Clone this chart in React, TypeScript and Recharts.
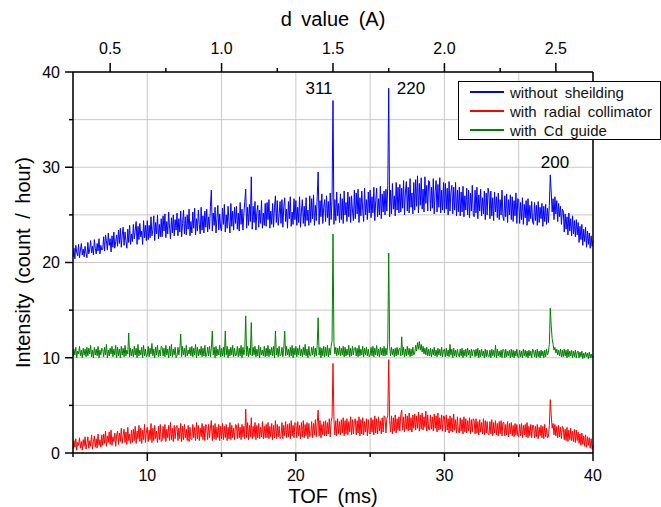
import React from 'react';
import { LineChart, Line, XAxis, YAxis, CartesianGrid, ReferenceDot } from 'recharts';

// TOF bins (ms): one value every 1/16 ms from 5 to 40
const TOF_START = 5;
const TOF_STEP = 0.0625;

// Intensity (count / hour), one row per ms
const BLUE = [
  20.6, 21.5, 20.4, 21.8, 21.1, 20.7, 21.9, 20.5, 21.3, 22.0, 20.8, 21.4, 20.6, 21.7, 21.0, 20.5,
  22.1, 20.9, 21.4, 22.3, 21.0, 21.7, 20.8, 22.4, 21.5, 20.9, 22.0, 21.2, 22.5, 20.9, 21.8, 21.3,
  21.4, 22.7, 21.2, 22.9, 22.3, 21.3, 23.1, 21.8, 22.5, 21.1, 22.8, 21.6, 23.2, 21.5, 22.2, 22.9,
  21.7, 23.4, 22.0, 23.6, 21.6, 22.9, 23.7, 21.8, 23.2, 22.3, 21.5, 23.5, 22.1, 23.9, 21.9, 23.0,
  22.2, 24.0, 22.5, 23.4, 24.3, 21.9, 23.8, 22.4, 24.1, 22.7, 23.3, 21.9, 24.4, 22.6, 23.9, 22.3,
  24.4, 22.4, 23.9, 22.6, 24.8, 22.8, 23.4, 24.9, 22.3, 24.2, 23.0, 25.0, 22.5, 24.0, 22.7, 24.6,
  22.7, 24.9, 23.3, 25.1, 22.6, 24.3, 23.0, 25.3, 23.6, 22.5, 24.7, 23.1, 25.0, 22.8, 24.5, 23.4,
  25.2, 22.8, 24.6, 23.2, 25.4, 22.7, 24.1, 25.5, 23.0, 24.8, 22.9, 25.0, 23.5, 25.6, 22.8, 24.3,
  23.1, 25.3, 23.6, 25.7, 22.9, 24.6, 23.3, 25.5, 24.0, 23.0, 25.8, 23.4, 24.9, 23.1, 25.4, 23.7,
  25.6, 23.2, 24.8, 23.5, 25.9, 27.6, 23.3, 25.2, 23.9, 25.8, 23.1, 24.6, 26.0, 23.4, 25.1, 23.6,
  23.3, 25.7, 24.0, 26.1, 23.2, 25.0, 23.6, 25.9, 24.3, 23.1, 26.2, 23.8, 25.4, 23.4, 25.8, 24.1,
  25.9, 23.5, 25.2, 23.3, 26.3, 24.0, 25.6, 23.4, 25.1, 26.4, 27.7, 23.6, 25.8, 23.9, 26.1, 24.3,
  29.0, 23.5, 25.9, 24.2, 26.4, 23.4, 25.3, 26.0, 23.7, 25.5, 24.1, 26.5, 23.6, 25.2, 23.9, 26.2,
  23.8, 26.3, 24.5, 26.6, 23.6, 25.4, 24.0, 26.2, 23.7, 25.8, 27.0, 24.2, 26.5, 23.9, 25.1, 26.4,
  24.1, 26.6, 23.7, 25.9, 26.8, 24.3, 25.6, 23.6, 26.4, 24.6, 26.9, 23.8, 25.3, 24.0, 26.7, 24.5,
  26.5, 23.9, 25.8, 24.2, 26.9, 23.7, 25.4, 26.6, 24.1, 25.9, 23.8, 26.8, 24.4, 25.5, 23.9, 27.0,
  24.2, 26.7, 24.6, 27.1, 23.9, 26.0, 24.4, 26.9, 29.5, 24.0, 26.5, 24.8, 27.2, 24.1, 25.8, 26.6,
  24.3, 27.0, 24.7, 26.4, 23.9, 27.3, 24.5, 26.8, 37.0, 24.0, 26.6, 24.4, 27.4, 24.9, 26.2, 24.2,
  27.2, 24.5, 26.7, 24.1, 27.5, 25.0, 26.3, 24.3, 27.4, 24.8, 26.9, 24.2, 27.0, 25.4, 24.4, 27.6,
  24.6, 27.3, 25.1, 27.7, 24.2, 26.8, 24.9, 27.5, 25.5, 24.3, 27.8, 25.0, 26.6, 24.5, 27.4, 25.2,
  27.6, 24.7, 26.9, 25.2, 27.9, 24.4, 26.5, 27.8, 24.8, 26.7, 25.0, 28.0, 24.6, 27.2, 25.3, 27.5,
  25.0, 27.7, 25.4, 28.1, 38.3, 24.8, 27.6, 25.1, 28.3, 25.6, 27.0, 24.9, 28.4, 25.5, 27.9, 25.2,
  28.2, 25.3, 27.8, 25.7, 28.6, 25.0, 27.4, 28.5, 25.4, 27.9, 25.2, 28.8, 25.8, 27.3, 25.1, 28.4,
  25.5, 28.7, 25.9, 29.1, 25.2, 28.3, 26.0, 28.9, 25.6, 27.7, 25.3, 29.0, 26.2, 28.1, 25.4, 28.6,
  28.5, 25.4, 27.9, 25.7, 28.8, 25.1, 27.5, 28.6, 25.3, 28.2, 25.8, 28.9, 25.2, 27.6, 25.5, 28.4,
  25.2, 28.3, 25.6, 27.8, 25.0, 28.5, 25.4, 27.4, 28.1, 25.1, 27.9, 25.5, 28.4, 24.9, 27.6, 25.3,
  27.9, 24.9, 27.4, 25.3, 28.0, 24.8, 27.0, 25.5, 27.8, 25.0, 27.6, 24.7, 27.3, 25.4, 28.1, 25.1,
  24.8, 27.6, 25.2, 27.9, 24.6, 27.1, 25.4, 27.7, 24.9, 26.8, 25.1, 27.5, 24.5, 27.3, 25.0, 27.8,
  27.2, 24.6, 27.5, 24.9, 26.8, 24.4, 27.4, 25.3, 26.9, 24.7, 27.3, 24.5, 26.6, 25.0, 27.6, 24.8,
  24.4, 27.0, 24.8, 27.2, 24.2, 26.6, 25.0, 27.1, 24.5, 26.9, 24.3, 26.5, 24.9, 27.3, 24.1, 26.7,
  26.6, 24.1, 26.3, 24.5, 26.8, 24.0, 26.1, 24.7, 26.5, 23.9, 26.7, 24.3, 26.0, 24.6, 26.4, 24.2,
  24.0, 26.3, 24.4, 26.0, 23.9, 26.4, 24.2, 25.8, 24.6, 26.2, 23.8, 25.9, 24.3, 26.1, 24.0, 25.7,
  24.2, 26.0, 29.2, 27.4, 25.3, 26.7, 24.5, 26.9, 25.1, 26.5, 24.3, 26.2, 24.8, 25.9, 24.0, 25.6,
  25.4, 23.2, 25.1, 23.5, 24.8, 22.9, 25.2, 23.3, 24.6, 22.8, 24.9, 23.0, 24.4, 22.7, 24.5, 22.9,
  24.2, 22.1, 23.8, 22.4, 24.0, 21.8, 23.5, 22.2, 23.7, 21.6, 23.3, 21.9, 23.1, 21.5, 22.8, 21.7,
  22.3,
];

const RED = [
  0.4, 1.3, 0.6, 1.5, 0.3, 1.1, 0.8, 1.6, 0.5, 1.2, 0.3, 1.4, 0.7, 1.7, 0.4, 1.0,
  1.7, 0.5, 1.3, 0.7, 1.9, 0.4, 1.2, 1.8, 0.6, 1.5, 0.5, 2.0, 0.8, 1.4, 0.6, 1.9,
  0.8, 2.0, 1.0, 2.3, 0.7, 1.8, 1.1, 2.2, 0.9, 2.4, 0.8, 1.7, 1.2, 2.1, 0.7, 1.9,
  2.3, 0.9, 2.1, 1.2, 2.6, 1.0, 1.9, 2.5, 1.1, 2.2, 0.9, 2.7, 1.3, 2.0, 1.0, 2.4,
  1.1, 2.5, 1.3, 2.8, 1.0, 2.3, 1.5, 2.9, 1.2, 2.6, 1.0, 2.4, 1.4, 3.0, 1.1, 2.2,
  2.7, 1.2, 2.4, 1.4, 3.1, 1.1, 2.6, 1.3, 2.9, 1.5, 2.3, 1.1, 2.8, 1.4, 3.0, 1.2,
  1.3, 2.8, 1.5, 3.0, 1.2, 2.5, 1.6, 2.9, 1.3, 3.2, 1.4, 2.6, 1.2, 2.9, 1.5, 2.7,
  2.9, 1.3, 2.6, 1.5, 3.1, 1.2, 2.8, 1.4, 3.0, 1.6, 2.5, 1.3, 2.9, 1.2, 2.7, 1.5,
  1.4, 3.0, 1.6, 2.7, 1.3, 3.2, 1.5, 2.9, 1.3, 2.6, 1.7, 3.1, 1.4, 2.8, 1.3, 3.0,
  2.8, 1.4, 3.0, 1.6, 2.6, 3.4, 1.3, 2.9, 1.5, 3.1, 1.4, 2.7, 1.6, 3.0, 1.3, 2.8,
  1.5, 3.1, 1.4, 2.8, 1.6, 3.0, 1.3, 2.7, 1.5, 3.2, 1.4, 2.9, 1.6, 2.6, 1.4, 3.0,
  2.9, 1.5, 3.1, 1.6, 2.7, 1.4, 3.0, 1.7, 2.8, 1.5, 4.6, 1.6, 3.2, 1.4, 2.9, 1.7,
  3.7, 1.5, 2.8, 1.7, 3.2, 1.4, 2.9, 1.6, 3.1, 1.5, 2.7, 1.7, 3.3, 1.5, 2.8, 1.6,
  3.0, 1.6, 3.2, 1.5, 2.8, 1.7, 3.1, 1.4, 2.9, 1.6, 3.4, 1.5, 3.0, 1.7, 2.8, 1.5,
  1.7, 3.2, 1.5, 2.9, 1.8, 3.3, 1.6, 3.0, 1.7, 3.1, 1.5, 3.4, 1.8, 2.9, 1.6, 3.2,
  3.1, 1.6, 3.3, 1.8, 2.9, 1.5, 3.2, 1.7, 3.4, 1.6, 3.0, 1.8, 3.2, 1.5, 3.1, 1.7,
  1.8, 3.3, 1.6, 3.1, 1.9, 3.5, 1.7, 3.2, 4.5, 1.8, 3.4, 1.6, 3.0, 1.9, 3.3, 1.8,
  3.4, 1.8, 3.2, 2.0, 3.6, 1.7, 3.3, 3.8, 9.4, 3.5, 1.9, 3.4, 1.8, 3.6, 2.0, 3.3,
  1.9, 3.5, 2.1, 3.7, 1.8, 3.4, 2.0, 3.6, 1.9, 3.3, 2.2, 3.8, 1.9, 3.5, 2.0, 3.4,
  3.6, 1.9, 3.4, 2.1, 3.8, 1.8, 3.5, 2.0, 3.7, 1.9, 3.3, 2.2, 3.6, 1.8, 3.5, 2.1,
  2.0, 3.7, 2.2, 3.5, 1.9, 3.9, 2.1, 3.6, 2.0, 3.8, 2.3, 3.4, 2.0, 3.7, 2.2, 3.9,
  3.8, 2.1, 3.6, 3.9, 9.8, 3.4, 2.2, 3.9, 2.0, 3.7, 2.3, 4.0, 2.1, 3.6, 2.4, 3.8,
  2.3, 4.0, 4.5, 2.4, 3.8, 2.2, 4.1, 2.5, 3.9, 2.3, 4.2, 2.4, 3.7, 2.2, 4.0, 2.6,
  4.1, 2.4, 3.9, 2.6, 4.3, 2.3, 4.0, 2.5, 4.2, 2.4, 3.8, 2.7, 4.4, 2.3, 4.0, 2.5,
  2.4, 4.0, 2.5, 3.8, 2.3, 4.1, 2.6, 3.9, 2.2, 4.2, 2.4, 3.7, 2.5, 4.0, 2.3, 3.9,
  3.8, 2.2, 4.0, 2.4, 3.6, 2.1, 3.9, 2.3, 3.7, 2.2, 4.1, 2.4, 3.5, 2.1, 3.8, 2.3,
  2.1, 3.7, 2.3, 3.5, 2.0, 3.8, 2.2, 3.6, 2.1, 3.4, 2.3, 3.7, 2.0, 3.5, 2.2, 3.6,
  3.4, 2.0, 3.6, 2.1, 3.3, 1.9, 3.5, 2.2, 3.2, 2.0, 3.6, 1.9, 3.4, 2.1, 3.3, 2.0,
  1.9, 3.3, 2.0, 3.5, 1.8, 3.2, 2.1, 3.4, 1.9, 3.1, 1.8, 3.3, 2.0, 3.4, 1.8, 3.2,
  3.2, 1.8, 3.0, 1.9, 3.3, 1.7, 3.1, 2.0, 3.2, 1.8, 2.9, 1.7, 3.1, 1.9, 3.0, 1.8,
  1.7, 3.0, 1.8, 3.1, 1.6, 2.9, 1.9, 3.0, 1.7, 3.2, 1.6, 2.8, 1.8, 3.0, 1.6, 2.9,
  2.9, 1.6, 2.8, 1.7, 3.0, 1.5, 2.7, 1.8, 2.9, 1.6, 2.8, 1.5, 3.0, 1.7, 2.6, 1.6,
  1.7, 2.9, 5.6, 4.0, 2.6, 3.1, 1.9, 3.0, 1.8, 2.8, 1.6, 2.9, 1.7, 2.7, 1.5, 2.8,
  2.6, 1.4, 2.5, 1.3, 2.7, 1.2, 2.4, 1.4, 2.6, 1.3, 2.3, 1.2, 2.5, 1.1, 2.4, 1.3,
  2.2, 1.0, 2.0, 0.8, 2.1, 0.9, 1.8, 0.7, 1.9, 0.6, 1.7, 0.8, 1.6, 0.5, 1.5, 0.4,
  0.8,
];

const GREEN = [
  10.1, 10.9, 10.3, 11.1, 10.0, 10.7, 10.4, 11.2, 10.2, 10.8, 10.0, 11.0, 10.3, 10.9, 10.1, 11.1,
  10.2, 11.0, 10.4, 11.3, 10.1, 10.8, 10.0, 11.1, 10.3, 10.9, 10.2, 11.2, 10.0, 10.8, 10.3, 11.0,
  10.9, 10.1, 11.1, 10.3, 11.4, 10.0, 10.8, 10.2, 11.0, 10.4, 11.2, 10.1, 10.9, 10.3, 11.3, 10.0,
  11.1, 10.2, 10.9, 10.0, 11.2, 10.3, 11.0, 10.1, 11.3, 10.2, 10.8, 10.4, 12.6, 10.1, 11.0, 10.2,
  10.9, 10.1, 11.2, 10.3, 11.0, 10.0, 11.4, 10.2, 10.8, 10.3, 11.1, 10.0, 11.3, 10.2, 10.9, 10.1,
  10.3, 11.2, 10.1, 11.0, 10.4, 11.5, 10.2, 10.9, 10.0, 11.1, 10.3, 11.3, 10.1, 10.8, 10.2, 11.2,
  11.1, 10.2, 11.0, 10.1, 11.3, 10.3, 10.9, 10.0, 11.2, 10.2, 11.4, 10.1, 10.9, 10.3, 11.1, 10.0,
  10.2, 11.1, 10.3, 10.9, 12.5, 10.1, 11.2, 10.3, 11.0, 10.1, 11.3, 10.2, 10.8, 10.4, 11.1, 10.2,
  11.2, 10.1, 11.0, 10.3, 11.4, 10.0, 11.1, 10.2, 10.9, 10.3, 11.2, 10.1, 11.0, 10.2, 11.3, 10.1,
  10.3, 11.1, 10.2, 11.2, 10.1, 11.0, 12.8, 10.3, 11.1, 10.0, 11.2, 10.2, 10.9, 10.3, 11.3, 10.1,
  11.0, 10.2, 11.1, 10.1, 12.8, 10.3, 11.2, 10.0, 10.9, 10.2, 11.1, 10.3, 11.3, 10.1, 11.0, 10.2,
  10.3, 11.2, 10.1, 11.0, 10.2, 11.3, 10.0, 11.1, 10.3, 10.9, 14.4, 10.2, 11.2, 10.1, 11.0, 10.3,
  13.7, 10.2, 11.1, 10.3, 11.2, 10.1, 10.9, 10.2, 11.3, 10.0, 11.1, 10.3, 10.8, 10.2, 11.2, 10.1,
  11.0, 10.2, 11.3, 10.1, 10.9, 10.3, 11.1, 10.2, 11.2, 10.0, 12.8, 10.3, 11.0, 10.1, 11.2, 10.2,
  10.3, 11.1, 10.1, 11.0, 12.8, 10.2, 11.2, 10.3, 10.9, 10.1, 11.1, 10.2, 11.3, 10.0, 11.0, 10.3,
  11.2, 10.1, 11.0, 10.3, 11.3, 10.2, 10.9, 10.1, 11.1, 10.3, 11.4, 10.2, 10.9, 10.0, 11.2, 10.2,
  10.2, 11.1, 10.3, 11.2, 10.1, 11.0, 10.2, 11.3, 14.2, 10.3, 11.1, 10.0, 11.0, 10.2, 11.2, 10.1,
  11.1, 10.2, 11.3, 10.1, 11.0, 10.3, 11.2, 11.8, 23.0, 11.6, 10.4, 11.1, 10.2, 11.0, 10.3, 11.2,
  10.2, 11.0, 10.3, 11.2, 10.1, 11.1, 10.2, 10.9, 10.3, 11.3, 10.1, 11.0, 10.2, 11.2, 10.3, 11.0,
  11.1, 10.2, 11.0, 10.1, 11.3, 10.2, 10.9, 10.3, 11.2, 10.1, 11.0, 10.3, 11.1, 10.2, 10.9, 10.1,
  10.3, 11.1, 10.2, 11.2, 10.1, 11.0, 10.3, 11.3, 10.2, 10.9, 10.1, 11.1, 10.3, 11.0, 10.2, 11.2,
  10.2, 11.0, 10.3, 11.6, 21.0, 11.2, 10.2, 11.1, 10.3, 10.9, 10.1, 11.0, 10.2, 11.1, 10.3, 10.9,
  11.0, 10.2, 12.2, 10.3, 11.1, 10.1, 10.9, 10.2, 11.2, 10.3, 11.0, 10.1, 10.9, 10.2, 11.1, 10.3,
  10.5, 11.3, 10.7, 11.6, 10.9, 11.7, 10.8, 11.4, 10.6, 11.2, 10.4, 11.0, 10.3, 11.1, 10.2, 10.9,
  10.2, 11.0, 10.1, 10.9, 10.3, 11.1, 10.2, 10.8, 10.1, 11.0, 10.3, 10.9, 10.2, 11.1, 10.1, 10.8,
  10.9, 10.1, 11.0, 10.2, 10.8, 10.1, 11.4, 10.3, 10.9, 10.0, 11.0, 10.2, 10.8, 10.1, 10.9, 10.3,
  10.1, 10.9, 10.2, 11.0, 10.0, 10.8, 10.2, 10.9, 10.1, 11.0, 10.3, 10.8, 10.0, 10.9, 10.2, 10.8,
  10.8, 10.1, 10.9, 10.2, 11.0, 10.0, 10.8, 10.1, 10.9, 10.2, 10.7, 10.0, 10.9, 10.1, 10.8, 10.2,
  10.1, 10.8, 10.0, 10.9, 10.2, 10.8, 10.1, 11.3, 10.0, 10.9, 10.2, 10.7, 10.1, 10.8, 10.0, 10.9,
  10.8, 10.0, 10.9, 10.1, 10.7, 10.2, 10.8, 10.0, 10.9, 10.1, 10.8, 10.0, 10.7, 10.2, 10.9, 10.1,
  10.0, 10.8, 10.1, 10.7, 10.0, 10.9, 10.2, 10.8, 10.1, 10.7, 10.0, 10.8, 10.2, 10.7, 10.0, 10.9,
  10.7, 10.1, 10.8, 10.0, 10.9, 10.1, 10.7, 10.0, 10.8, 10.2, 10.7, 10.0, 10.8, 10.1, 10.9, 10.3,
  10.6, 11.4, 15.2, 13.4, 12.0, 11.4, 10.8, 11.1, 10.5, 10.9, 10.3, 10.8, 10.2, 10.9, 10.1, 10.8,
  10.1, 10.9, 10.2, 10.8, 10.0, 10.9, 10.1, 10.7, 10.2, 10.8, 10.0, 10.7, 10.1, 10.8, 10.0, 10.6,
  10.7, 10.0, 10.6, 10.1, 10.7, 9.9, 10.5, 10.0, 10.6, 10.1, 10.5, 9.9, 10.6, 10.0, 10.4, 10.0,
  10.2,
];

const SERIES = [
  { key: 'blue', name: 'without sheilding', color: '#0000ff' },
  { key: 'red', name: 'with radial collimator', color: '#ff0000' },
  { key: 'green', name: 'with Cd guide', color: '#008000' },
];

// axis ticks
const TOF_TICKS = [5, 10, 15, 20, 25, 30, 35, 40];
const TOF_LABELS = [10, 20, 30, 40];
const Y_TICKS = [0, 5, 10, 15, 20, 25, 30, 35, 40];
const Y_LABELS = [0, 10, 20, 30, 40];
const D_TICKS = [0.5, 0.75, 1.0, 1.25, 1.5, 1.75, 2.0, 2.25, 2.5];
const D_LABELS = [0.5, 1.0, 1.5, 2.0, 2.5];
const TOF_PER_D = 15; // ms per angstrom on this instrument

// reflection labels, placed in data units
const PEAKS = [
  { text: '311', tof: 21.56, y: 38.3 },
  { text: '220', tof: 27.75, y: 38.3 },
  { text: '200', tof: 37.44, y: 30.55 },
];

const data = BLUE.map((b, i) => ({
  tof: TOF_START + i * TOF_STEP,
  blue: b,
  red: RED[i],
  green: GREEN[i],
}));

const INK = '#000';
const GRID = '#c8c8c8';

function BottomTick({ x, y, payload }: any) {
  const major = TOF_LABELS.includes(payload.value);
  return (
    <g>
      <line x1={x} x2={x} y1={y} y2={y + (major ? 8 : 4)} stroke={INK} strokeWidth={1.5} />
      {major && (
        <text x={x} y={y + 28} textAnchor="middle" fontSize={16} fill={INK}>
          {payload.value}
        </text>
      )}
    </g>
  );
}

function TopTick({ x, y, payload }: any) {
  const d = payload.value / TOF_PER_D;
  const major = D_LABELS.some((v) => Math.abs(v - d) < 1e-6);
  return (
    <g>
      <line x1={x} x2={x} y1={y} y2={y - (major ? 9 : 4)} stroke={INK} strokeWidth={1.5} />
      {major && (
        <text x={x} y={y - 18} textAnchor="middle" fontSize={16} fill={INK}>
          {d.toFixed(1)}
        </text>
      )}
    </g>
  );
}

function LeftTick({ x, y, payload }: any) {
  const major = Y_LABELS.includes(payload.value);
  return (
    <g>
      <line x1={x} x2={x - (major ? 8 : 4)} y1={y} y2={y} stroke={INK} strokeWidth={1.5} />
      {major && (
        <text x={x - 13} y={y} dy="0.36em" textAnchor="end" fontSize={16} fill={INK}>
          {payload.value}
        </text>
      )}
    </g>
  );
}

function RightTick({ x, y, payload }: any) {
  const major = Y_LABELS.includes(payload.value);
  return <line x1={x} x2={x + (major ? 6 : 3)} y1={y} y2={y} stroke={INK} strokeWidth={1.5} />;
}

const titleStyle = { wordSpacing: 4 };

function BottomTitle({ viewBox }: any) {
  return (
    <text x={viewBox.x + viewBox.width / 2} y={viewBox.y + 50} textAnchor="middle" fontSize={20} fill={INK} style={titleStyle}>
      TOF (ms)
    </text>
  );
}

function TopTitle({ viewBox }: any) {
  return (
    <text x={viewBox.x + viewBox.width / 2} y={viewBox.y + 26} textAnchor="middle" fontSize={20} fill={INK} style={titleStyle}>
      d value (A)
    </text>
  );
}

function LeftTitle({ viewBox }: any) {
  const cx = viewBox.x + 23;
  const cy = viewBox.y + viewBox.height / 2;
  return (
    <text
      x={cx}
      y={cy}
      dy="0.36em"
      transform={`rotate(-90 ${cx} ${cy})`}
      textAnchor="middle"
      fontSize={20}
      fill={INK}
      style={titleStyle}
    >
      Intensity (count / hour)
    </text>
  );
}

function PeakLabel(text: string) {
  return ({ cx, cy }: any) => (
    <text x={cx} y={cy} dy="0.36em" textAnchor="middle" fontSize={17} fill={INK}>
      {text}
    </text>
  );
}

export default function App() {
  return (
    <div
      style={{
        position: 'absolute',
        left: 0,
        top: 0,
        width: 661,
        height: 507,
        background: '#fff',
        fontFamily: '"Liberation Sans", Arial, sans-serif',
      }}
    >
      <LineChart width={661} height={507} data={data} margin={{ top: 0, right: 0, bottom: 0, left: 0 }}>
        <CartesianGrid xAxisId="bottom" yAxisId="left" stroke={GRID} strokeWidth={1} />
        <XAxis
          xAxisId="bottom"
          dataKey="tof"
          type="number"
          domain={[5, 40]}
          ticks={TOF_TICKS}
          interval={0}
          height={54}
          tickSize={0}
          tickMargin={0}
          tickLine={false}
          tick={<BottomTick />}
          axisLine={{ stroke: INK, strokeWidth: 1.5 }}
          label={<BottomTitle />}
        />
        <XAxis
          xAxisId="top"
          orientation="top"
          dataKey="tof"
          type="number"
          domain={[5, 40]}
          ticks={D_TICKS.map((d) => d * TOF_PER_D)}
          interval={0}
          height={72}
          tickSize={0}
          tickMargin={0}
          tickLine={false}
          tick={<TopTick />}
          axisLine={{ stroke: INK, strokeWidth: 1.5 }}
          label={<TopTitle />}
        />
        <YAxis
          yAxisId="left"
          type="number"
          domain={[0, 40]}
          ticks={Y_TICKS}
          interval={0}
          width={73}
          tickSize={0}
          tickMargin={0}
          tickLine={false}
          tick={<LeftTick />}
          axisLine={{ stroke: INK, strokeWidth: 1.5 }}
          label={<LeftTitle />}
        />
        <YAxis
          yAxisId="right"
          orientation="right"
          type="number"
          domain={[0, 40]}
          ticks={Y_TICKS}
          interval={0}
          width={68}
          tickSize={0}
          tickMargin={0}
          tickLine={false}
          tick={<RightTick />}
          axisLine={{ stroke: INK, strokeWidth: 1.5 }}
        />
        {SERIES.map((s) => (
          <Line
            key={s.key}
            xAxisId="bottom"
            yAxisId="left"
            type="linear"
            dataKey={s.key}
            name={s.name}
            stroke={s.color}
            strokeWidth={1}
            dot={false}
            activeDot={false}
            isAnimationActive={false}
          />
        ))}
        {PEAKS.map((p) => (
          <ReferenceDot
            key={p.text}
            xAxisId="bottom"
            yAxisId="left"
            x={p.tof}
            y={p.y}
            r={0}
            shape={PeakLabel(p.text)}
          />
        ))}
      </LineChart>
      <div
        style={{
          position: 'absolute',
          left: 458,
          top: 81,
          width: 203,
          height: 59,
          boxSizing: 'border-box',
          border: '1px solid #000',
          background: '#fff',
        }}
      >
        {SERIES.map((s, i) => (
          <div
            key={s.key}
            style={{
              position: 'absolute',
              left: 11,
              top: 0.5 + i * 19,
              height: 19,
              display: 'flex',
              alignItems: 'center',
              whiteSpace: 'nowrap',
            }}
          >
            <span style={{ display: 'inline-block', width: 34, height: 1.5, background: s.color, marginRight: 6 }} />
            <span style={{ fontSize: 15, wordSpacing: 3, color: '#111' }}>{s.name}</span>
          </div>
        ))}
      </div>
    </div>
  );
}
